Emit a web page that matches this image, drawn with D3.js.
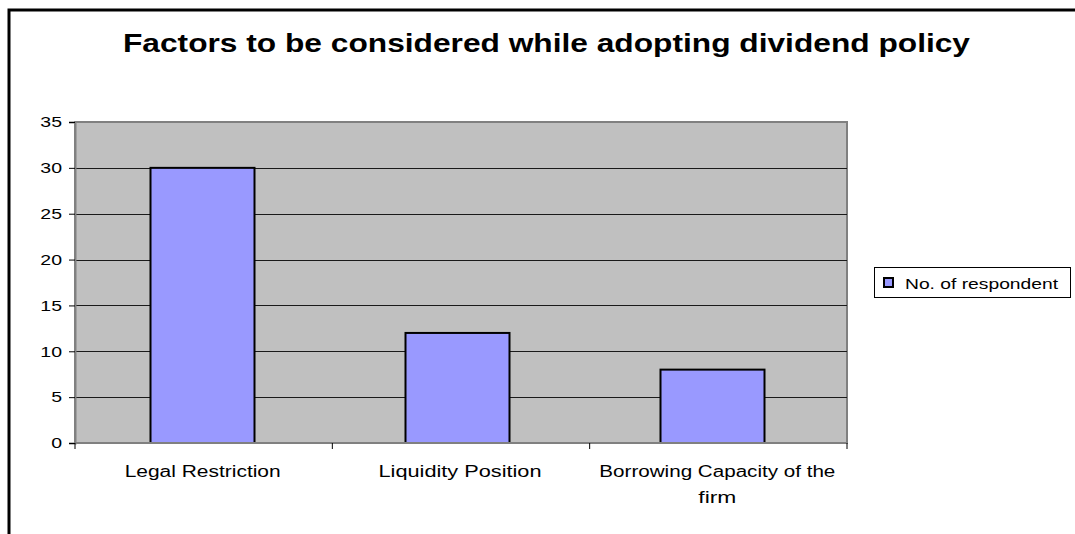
<!DOCTYPE html>
<html>
<head>
<meta charset="utf-8">
<script src="https://cdn.jsdelivr.net/npm/d3@7/dist/d3.min.js"></script>
<style>
  html, body { margin: 0; padding: 0; background: #fff; }
  svg { display: block; font-family: "Liberation Sans", Arial, sans-serif; }
</style>
</head>
<body>
<svg id="chart" width="1075" height="534"></svg>
<script>
// Survey results: how many respondents named each factor
const categories = ["Legal Restriction", "Liquidity Position", "Borrowing Capacity of the firm"];
const categoryLines = [["Legal Restriction"], ["Liquidity Position"], ["Borrowing Capacity of the", "firm"]];
const categoryLineWidths = [[156], [163], [236, 38]];
const respondents = [30, 12, 8];
const yTicks = [0, 5, 10, 15, 20, 25, 30, 35];
const seriesName = "No. of respondent";
const titleText = "Factors to be considered while adopting dividend policy";

const svg = d3.select("#chart");

// outer chart frame
svg.append("rect")
  .attr("x", 9).attr("y", 10)
  .attr("width", 1100).attr("height", 560)
  .attr("fill", "#fff").attr("stroke", "#000").attr("stroke-width", 3);

// title
svg.append("text")
  .attr("x", 123).attr("y", 52)
  .attr("textLength", 847).attr("lengthAdjust", "spacingAndGlyphs")
  .attr("font-size", 26).attr("font-weight", "bold")
  .attr("fill", "#000")
  .text(titleText);

const plot = { left: 75, right: 847, top: 122, bottom: 443 };

// category slots (axis separators, labels) and bar slots
const xOuter = d3.scaleBand()
  .domain(categories)
  .range([plot.left, plot.right]);

const xBar = d3.scaleBand()
  .domain(categories)
  .range([plot.left, plot.right - 7])
  .paddingInner(0.6).paddingOuter(0.3);

const y = d3.scaleLinear()
  .domain([0, 35])
  .range([plot.bottom, plot.top]);

// plot area background
svg.append("rect")
  .attr("x", plot.left).attr("y", plot.top)
  .attr("width", plot.right - plot.left).attr("height", plot.bottom - plot.top)
  .attr("fill", "#c0c0c0").attr("stroke", "#808080").attr("stroke-width", 2);

// horizontal gridlines
svg.append("g")
  .selectAll("line")
  .data(yTicks.filter(t => t > 0 && t < 35))
  .join("line")
  .attr("x1", plot.left).attr("x2", plot.right)
  .attr("y1", d => Math.round(y(d)) + 0.5).attr("y2", d => Math.round(y(d)) + 0.5)
  .attr("stroke", "#1a1a1a").attr("stroke-width", 1.2);

// bars
svg.append("g")
  .selectAll("rect")
  .data(respondents)
  .join("rect")
  .attr("x", (d, i) => xBar(categories[i]) + xBar.bandwidth() / 2 - 52)
  .attr("width", 104)
  .attr("y", d => y(d))
  .attr("height", d => y(0) - y(d))
  .attr("fill", "#9999ff").attr("stroke", "#000").attr("stroke-width", 2);

// y axis
const yAxis = svg.append("g")
  .attr("transform", `translate(${plot.left},0)`)
  .call(d3.axisLeft(y).tickValues(yTicks).tickSize(6).tickPadding(6).tickFormat(d3.format("d")));
yAxis.select(".domain").attr("stroke", "#808080").attr("stroke-width", 2);
yAxis.selectAll(".tick line").attr("stroke", "#000");
yAxis.selectAll("text")
  .attr("font-size", 15)
  .attr("font-family", "Liberation Sans, Arial, sans-serif")
  .attr("fill", "#000")
  .attr("x", -10)
  .attr("transform", "scale(1.3,1)");

// x axis line and category separators
const xAxis = svg.append("g")
  .attr("transform", `translate(0,${plot.bottom})`);
xAxis.append("line")
  .attr("x1", plot.left).attr("x2", plot.right)
  .attr("stroke", "#808080").attr("stroke-width", 2);
xAxis.selectAll("line.sep")
  .data([plot.left, ...categories.map(c => xOuter(c) + xOuter.bandwidth())])
  .join("line")
  .attr("class", "sep")
  .attr("x1", d => d).attr("x2", d => d)
  .attr("y1", 0).attr("y2", 6)
  .attr("stroke", "#000");

// category labels
const labels = svg.append("g");
categories.forEach((c, i) => {
  const cx = xOuter(c) + xOuter.bandwidth() / 2 - 1;
  categoryLines[i].forEach((line, j) => {
    const w = categoryLineWidths[i][j];
    labels.append("text")
      .attr("x", cx - w / 2)
      .attr("y", 477 + j * 26)
      .attr("font-size", 16)
      .attr("fill", "#000")
      .attr("textLength", w)
      .attr("lengthAdjust", "spacingAndGlyphs")
      .text(line);
  });
});

// legend
const legend = svg.append("g");
legend.append("rect")
  .attr("x", 874.5).attr("y", 267.5).attr("width", 196).attr("height", 30)
  .attr("fill", "#fff").attr("stroke", "#000").attr("stroke-width", 1);
legend.append("rect")
  .attr("x", 884).attr("y", 278).attr("width", 9).attr("height", 9)
  .attr("fill", "#9999ff").attr("stroke", "#000").attr("stroke-width", 2);
legend.append("text")
  .attr("x", 905).attr("y", 289)
  .attr("font-size", 15).attr("fill", "#000")
  .attr("textLength", 153).attr("lengthAdjust", "spacingAndGlyphs")
  .text(seriesName);
</script>
</body>
</html>
